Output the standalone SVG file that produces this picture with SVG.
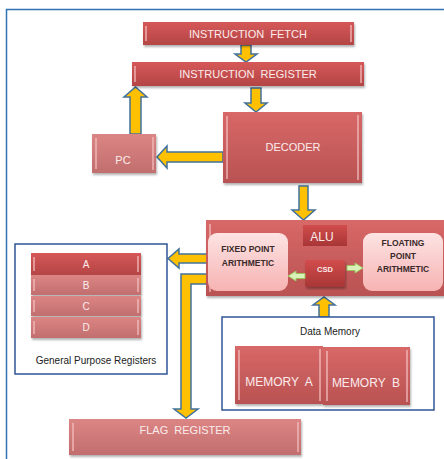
<svg xmlns="http://www.w3.org/2000/svg" width="444" height="459" viewBox="0 0 444 459">
<style>
text{white-space:pre}
.t{font-family:"Liberation Sans",Arial,sans-serif;fill:#fbecec;text-anchor:middle;font-size:11px}
.d{font-family:"Liberation Sans",Arial,sans-serif;fill:#3a2a2a;text-anchor:middle;font-weight:bold;font-size:8.5px}
.k{font-family:"Liberation Sans",Arial,sans-serif;fill:#222;text-anchor:middle;font-size:10px}
.hl{stroke:#f6c0c0;stroke-width:1.5;opacity:0.85}
.arr{fill:#ffc000;stroke:#41719c;stroke-width:1.5;stroke-linejoin:miter}
.garr{fill:#d9f2b8;stroke:#9cc25e;stroke-width:1}
.frm{fill:#fff;stroke:#2f5597;stroke-width:1.5}
</style>
<defs>
<linearGradient id="gR" x1="0" y1="0" x2="0" y2="1"><stop offset="0" stop-color="#d65858"/><stop offset="1" stop-color="#b44545"/></linearGradient>
<linearGradient id="gM" x1="0" y1="0" x2="0" y2="1"><stop offset="0" stop-color="#d86868"/><stop offset="1" stop-color="#b95252"/></linearGradient>
<linearGradient id="gL" x1="0" y1="0" x2="0" y2="1"><stop offset="0" stop-color="#dc8585"/><stop offset="1" stop-color="#c26e6e"/></linearGradient>
<linearGradient id="gP" x1="0" y1="0" x2="0" y2="1"><stop offset="0" stop-color="#fde3e3"/><stop offset="1" stop-color="#f7b3b3"/></linearGradient>
<linearGradient id="gC" x1="0" y1="0" x2="0" y2="1"><stop offset="0" stop-color="#d24c4c"/><stop offset="1" stop-color="#a83636"/></linearGradient>
<filter id="sh" x="-10%" y="-10%" width="120%" height="130%"><feDropShadow dx="1" dy="2" stdDeviation="1" flood-color="#000" flood-opacity="0.3"/></filter>
</defs>
<rect x="6.5" y="9.5" width="480" height="480" fill="#fff" stroke="#2e74b5" stroke-width="1.5"/>

<g id="connectors">
<polygon class="arr" points="241,45 251,45 251,54 257,54 246,62 235,54 241,54"/>
<polygon class="arr" points="251,88 261,88 261,103 267,103 256,112 245,103 251,103"/>
<polygon class="arr" points="130,134 130,97 124,97 135.5,87 147,97 141,97 141,134"/>
<polygon class="arr" points="223,152 167,152 167,146 157,157 167,168 167,162 223,162"/>
<polygon class="arr" points="299,186 308,186 308,210 315,210 303.5,220 292,210 299,210"/>
<polygon class="arr" points="208,254 179,254 179,249 168,258.5 179,268 179,263 208,263"/>
<polygon class="arr" points="207,274 181,274 181,409 174,409 186,418 198,409 191,409 191,284 207,284"/>
<polygon class="arr" points="319,317 319,305 313,305 324,297 335,305 329,305 329,317"/>
</g>

<g id="instruction-fetch">
<rect x="143" y="22" width="211" height="23" fill="url(#gR)" filter="url(#sh)"/>
<line class="hl" x1="146" y1="26" x2="146" y2="41"/><line class="hl" x1="351" y1="25" x2="351" y2="42"/>
<text class="t" x="248" y="37.5">INSTRUCTION  FETCH</text>
</g>
<g id="instruction-register">
<rect x="132" y="62" width="232" height="24" fill="url(#gR)" filter="url(#sh)"/>
<line class="hl" x1="135" y1="66" x2="135" y2="82"/><line class="hl" x1="361" y1="65" x2="361" y2="83"/>
<text class="t" x="248" y="77.5">INSTRUCTION  REGISTER</text>
</g>
<g id="decoder">
<rect x="223" y="112" width="139" height="71" fill="url(#gM)" filter="url(#sh)"/>
<line class="hl" x1="227" y1="116" x2="227" y2="179"/><line class="hl" x1="358" y1="115" x2="358" y2="180"/>
<text class="t" x="293" y="151">DECODER</text>
</g>
<g id="pc">
<rect x="92" y="134" width="64" height="39" fill="url(#gL)" filter="url(#sh)"/>
<line class="hl" x1="96" y1="138" x2="96" y2="169"/><line class="hl" x1="153" y1="137" x2="153" y2="170"/>
<text class="t" x="123" y="164">PC</text>
</g>

<g id="alu">
<rect x="206" y="220" width="240" height="76" fill="url(#gM)" filter="url(#sh)"/>
<line class="hl" x1="210" y1="224" x2="210" y2="292"/>
<rect x="303" y="225" width="44" height="21" fill="url(#gC)"/>
<text class="t" x="322" y="241" style="font-size:12px">ALU</text>
</g>
<g id="fixed-point">
<rect x="208" y="233" width="80" height="58" rx="9" fill="url(#gP)"/>
<text class="d" x="248" y="252">FIXED POINT</text>
<text class="d" x="248" y="265.5">ARITHMETIC</text>
</g>
<g id="floating-point">
<rect x="363" y="233" width="80" height="58" rx="9" fill="url(#gP)"/>
<text class="d" x="403" y="246">FLOATING</text>
<text class="d" x="403" y="259">POINT</text>
<text class="d" x="403" y="272">ARITHMETIC</text>
</g>
<g id="csd">
<rect x="305" y="260" width="40" height="27" rx="2" fill="url(#gC)" filter="url(#sh)"/>
<text class="t" x="325" y="272" style="font-size:7.5px;font-weight:bold">CSD</text>
<polygon class="garr" points="305,273.5 296,273.5 296,271 288,276 296,281 296,278.5 305,278.5"/>
<polygon class="garr" points="347,265.5 355,265.5 355,263 363,268 355,273 355,270.5 347,270.5"/>
</g>

<g id="general-purpose-registers">
<rect class="frm" x="15" y="244" width="152" height="130"/>
<rect x="31" y="253" width="110" height="22" fill="url(#gR)" filter="url(#sh)"/>
<line class="hl" x1="34" y1="257" x2="34" y2="271"/><line class="hl" x1="138" y1="256" x2="138" y2="272"/>
<text class="t" x="86" y="268" style="font-size:10px">A</text>
<rect x="31" y="275" width="110" height="20" fill="url(#gL)" filter="url(#sh)"/>
<line class="hl" x1="34" y1="279" x2="34" y2="291"/><line class="hl" x1="138" y1="278" x2="138" y2="292"/>
<text class="t" x="86" y="289" style="font-size:10px">B</text>
<rect x="31" y="296" width="110" height="20" fill="url(#gL)" filter="url(#sh)"/>
<line class="hl" x1="34" y1="300" x2="34" y2="312"/><line class="hl" x1="138" y1="299" x2="138" y2="313"/>
<text class="t" x="86" y="310" style="font-size:10px">C</text>
<rect x="31" y="317" width="110" height="21" fill="url(#gL)" filter="url(#sh)"/>
<line class="hl" x1="34" y1="321" x2="34" y2="334"/><line class="hl" x1="138" y1="320" x2="138" y2="335"/>
<text class="t" x="86" y="331" style="font-size:10px">D</text>
<text class="k" x="96" y="364">General Purpose Registers</text>
</g>

<g id="data-memory">
<rect class="frm" x="222" y="317" width="212" height="93"/>
<text class="k" x="330" y="335">Data Memory</text>
<rect x="235" y="346" width="88" height="58" fill="url(#gM)" filter="url(#sh)"/>
<line class="hl" x1="239" y1="350" x2="239" y2="400"/><line class="hl" x1="320" y1="349" x2="320" y2="401"/>
<text class="t" x="279" y="386" style="font-size:12px">MEMORY  A</text>
<rect x="323" y="347" width="87" height="58" fill="url(#gM)" filter="url(#sh)"/>
<line class="hl" x1="327" y1="351" x2="327" y2="401"/><line class="hl" x1="407" y1="350" x2="407" y2="402"/>
<text class="t" x="366" y="387" style="font-size:12px">MEMORY  B</text>
</g>

<g id="flag-register">
<rect x="69" y="419" width="232" height="36" fill="url(#gL)" filter="url(#sh)"/>
<line class="hl" x1="73" y1="423" x2="73" y2="451"/><line class="hl" x1="298" y1="422" x2="298" y2="452"/>
<text class="t" x="185" y="434">FLAG  REGISTER</text>
</g>
</svg>
